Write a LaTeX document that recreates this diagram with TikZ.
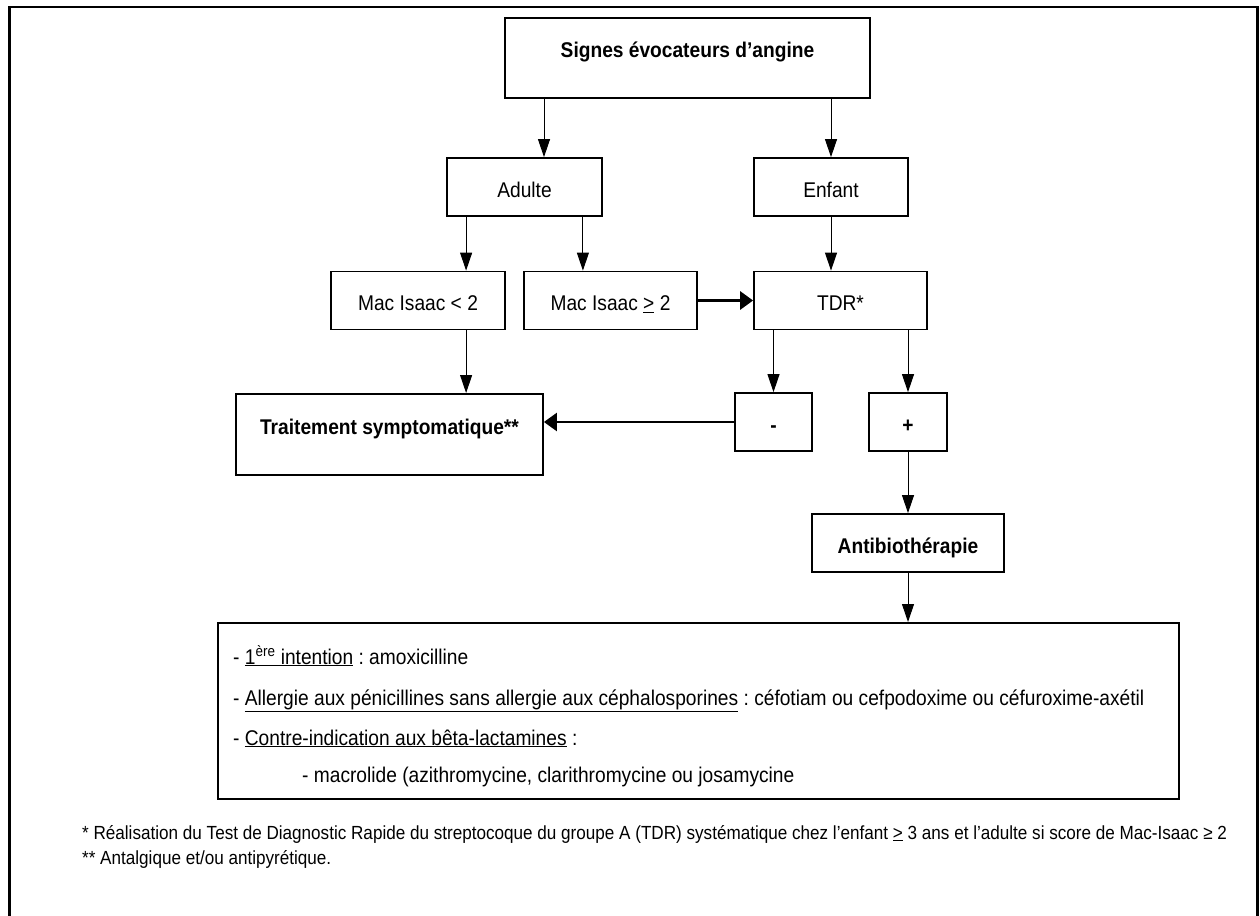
\documentclass[tikz,border=0pt]{standalone}
\usepackage{fontspec}
\setmainfont{Liberation Sans}[FakeStretch=0.9]
\usetikzlibrary{arrows.meta}
\frenchspacing

\tikzset{
  box/.style={draw, line width=1.8pt, inner sep=0pt, text height=39, text depth=19,
    font=\fontsize{21.3}{25}\selectfont},
  bold/.style={font=\fontsize{21.3}{25}\selectfont\bfseries},
  item/.style={inner sep=0pt, font=\fontsize{21.3}{25}\selectfont},
  note/.style={inner sep=0pt, font=\fontsize{19}{23}\selectfont},
  varr/.style={-{Triangle[length=18pt,width=12pt]}, line width=1pt},
  harr/.style={-{Triangle[length=13pt,width=18pt]}, line width=2.5pt},
  frame/.style={line width=2.5pt}
}

\begin{document}
\begin{tikzpicture}[x=1pt,y=-1pt]
  \useasboundingbox (0,0) rectangle (1260,915);
  \draw[frame] (9.5,930) -- (9.5,7) -- (1257.5,7) -- (1257.5,930);

  % first rows
  \node[box, bold, anchor=north, minimum width=365, text height=40, text depth=40]
    (sig) at (687.5,17) {Signes évocateurs d’angine};
  \node[box, minimum width=155] (adu) at (524.5,187) {Adulte};
  \node[box, minimum width=154] (enf) at (831,187) {Enfant};
  \node[box, minimum width=174] (mlo) at (418,300.5) {Mac Isaac < 2};
  \node[box, minimum width=173] (mhi) at (610.5,300.5) {Mac Isaac \underline{>} 2};
  \node[box, minimum width=173] (tdr) at (840.5,300.5) {TDR*};

  % results
  \node[box, bold, anchor=north, minimum width=307, text height=41, text depth=40]
    (trt) at (389.5,393) {Traitement symptomatique**};
  \node[box, bold, minimum width=77] (neg) at (773.5,422) {-};
  \node[box, bold, minimum width=78] (pos) at (908,422) {+};
  \node[box, bold, minimum width=192] (abx) at (908,543) {Antibiothérapie};

  % treatment list
  \node[box, anchor=north west, minimum width=961, text height=176, text depth=0] (lst) at (217,622) {};
  \node[item, anchor=base west] (l1) at (233,664)
    {- \underline{1\textsuperscript{ère} intention} : amoxicilline};
  \node[item, anchor=base west] (l2) at (233,705)
    {- \underline{Allergie aux pénicillines sans allergie aux céphalosporines} : céfotiam ou cefpodoxime ou céfuroxime-axétil};
  \node[item, anchor=base west] (l3) at (233,745)
    {- \underline{Contre-indication aux bêta-lactamines} :};
  \node[item, anchor=base west] (l4) at (302,782)
    {- macrolide (azithromycine, clarithromycine ou josamycine};

  % footnotes
  \node[note, anchor=base west] (fn1) at (82,839)
    {* Réalisation du Test de Diagnostic Rapide du streptocoque du groupe A (TDR) systématique chez l’enfant \underline{>} 3 ans et l’adulte si score de Mac-Isaac ≥ 2};
  \node[note, anchor=base west] (fn2) at (82,864) {** Antalgique et/ou antipyrétique.};

  % arrows
  \coordinate (aL) at ([xshift=20]adu.south west);
  \coordinate (aR) at ([xshift=-20]adu.south east);
  \draw[varr] ([xshift=19.5]adu.north |- sig.south) -- ([xshift=19.5]adu.north);
  \draw[varr] (enf.north |- sig.south) -- (enf.north);
  \draw[varr] (aL) -- (aL |- mlo.north);
  \draw[varr] (aR) -- (aR |- mhi.north);
  \draw[varr] (enf.south) -- (enf.south |- tdr.north);
  \draw[harr, line width=3pt] (mhi.east) -- (tdr.west);
  \draw[varr] (aL |- mlo.south) -- (aL |- trt.north);
  \draw[varr] (neg.north |- tdr.south) -- (neg.north);
  \draw[varr] (pos.north |- tdr.south) -- (pos.north);
  \draw[harr] (neg.west) -- (neg.west -| trt.east);
  \draw[varr] (pos.south) -- (abx.north);
  \draw[varr] (abx.south) -- (abx.south |- lst.north);
\end{tikzpicture}
\end{document}
